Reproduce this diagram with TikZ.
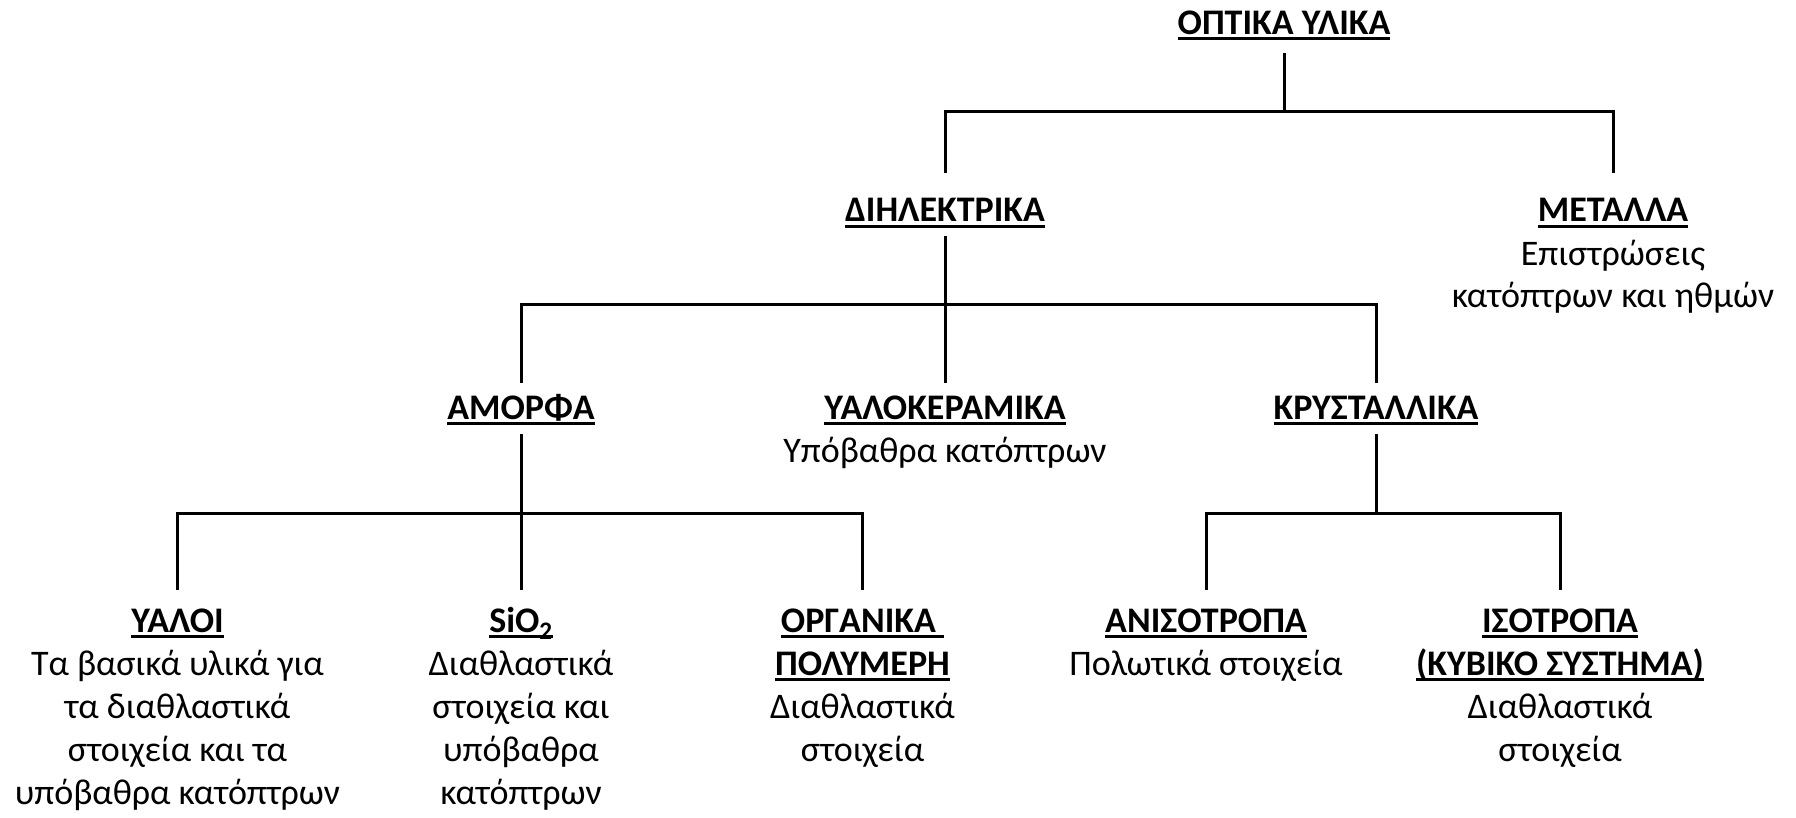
\documentclass[tikz,border=0pt]{standalone}
\usepackage{fontspec}
\setmainfont{Carlito}
\newcommand{\hd}[1]{\setbox0\hbox{\bfseries #1}\leavevmode\rlap{\rule[-6pt]{\wd0}{3pt}}\box0}
\tikzset{
  lbl/.style={font=\fontsize{36}{43}\selectfont, align=center, anchor=base, inner sep=0pt},
  conn/.style={line width=3pt, line cap=rect},
}
\begin{document}
\begin{tikzpicture}[x=1pt,y=-1pt]
\useasboundingbox (0,0) rectangle (1796,818);
% nodes (anchor = baseline of the last line)
\node[lbl] (root)  at (1284,34.5) {\hd{ΟΠΤΙΚΑ ΥΛΙΚΑ}};
\node[lbl] (diel)  at (945,222) {\hd{ΔΙΗΛΕΚΤΡΙΚΑ}};
\node[lbl] (metal) at (1613,308) {\hd{ΜΕΤΑΛΛΑ}\\Επιστρώσεις\\κατόπτρων και ηθμών};
\node[lbl] (amorf) at (521,419) {\hd{ΑΜΟΡΦΑ}};
\node[lbl] (yalo)  at (945,462) {\hd{ΥΑΛΟΚΕΡΑΜΙΚΑ}\\Υπόβαθρα κατόπτρων};
\node[lbl] (kryst) at (1376,419) {\hd{ΚΡΥΣΤΑΛΛΙΚΑ}};
\node[lbl] (yaloi) at (177.5,804) {\hd{ΥΑΛΟΙ}\\Τα βασικά υλικά για\\τα διαθλαστικά\\στοιχεία και τα\\υπόβαθρα κατόπτρων};
\node[lbl] (sio)   at (521,804) {\hd{SiO\textsubscript{2}}\\Διαθλαστικά\\στοιχεία και\\υπόβαθρα\\κατόπτρων};
\node[lbl] (org)   at (862.5,761) {\hd{ΟΡΓΑΝΙΚΑ }\\\hd{ΠΟΛΥΜΕΡΗ}\\Διαθλαστικά\\στοιχεία};
\node[lbl] (anis)  at (1206,675) {\hd{ΑΝΙΣΟΤΡΟΠΑ}\\Πολωτικά στοιχεία};
\node[lbl] (isot)  at (1560,761) {\hd{ΙΣΟΤΡΟΠΑ}\\\hd{(ΚΥΒΙΚΟ ΣΥΣΤΗΜΑ)}\\Διαθλαστικά\\στοιχεία};
% coordinates
\coordinate (r0) at (1284,55);  \coordinate (r1) at (1284,112);
\coordinate (rL) at (945,112);  \coordinate (rR) at (1613,112);
\coordinate (dT) at (945,172);  \coordinate (mT) at (1613,172);
\coordinate (d0) at (945,238);  \coordinate (d1) at (945,305);
\coordinate (dL) at (521,305);  \coordinate (dR) at (1376,305);
\coordinate (aT) at (521,381);  \coordinate (yT) at (945,381); \coordinate (kT) at (1376,381);
\coordinate (a0) at (521,435);  \coordinate (a1) at (521,513);
\coordinate (aL) at (177.5,513); \coordinate (aR) at (862.5,513);
\coordinate (yiT) at (177.5,588); \coordinate (sT) at (521,588); \coordinate (oT) at (862.5,588);
\coordinate (k0) at (1376,435); \coordinate (k1) at (1376,513);
\coordinate (kL) at (1206,513); \coordinate (kR) at (1560,513);
\coordinate (anT) at (1206,588); \coordinate (isT) at (1560,588);
% connectors
\draw[conn] (r0) -- (r1);
\draw[conn] (dT) -- (rL) -- (rR) -- (mT);
\draw[conn] (d0) -- (yT);
\draw[conn] (aT) -- (dL) -- (dR) -- (kT);
\draw[conn] (a0) -- (sT);
\draw[conn] (yiT) -- (aL) -- (aR) -- (oT);
\draw[conn] (k0) -- (k1);
\draw[conn] (anT) -- (kL) -- (kR) -- (isT);
\end{tikzpicture}
\end{document}
